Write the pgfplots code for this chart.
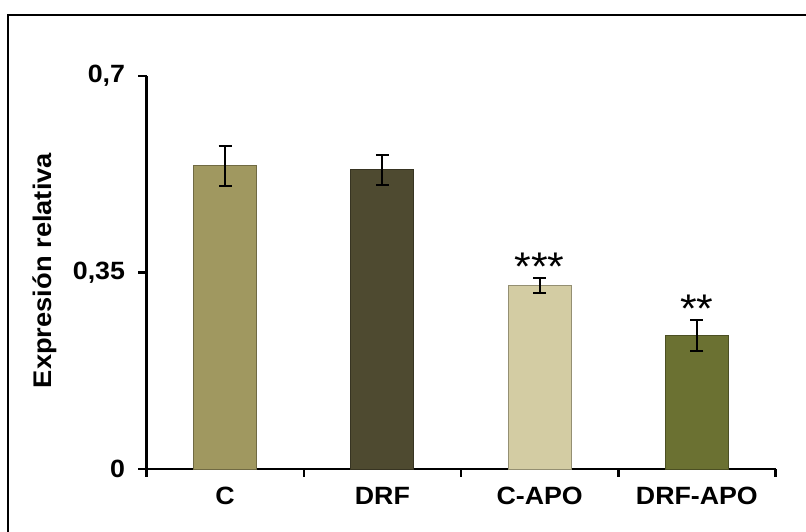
\documentclass[border=0pt]{standalone}
\usepackage{pgfplots}
\pgfplotsset{compat=1.18}
\usepackage{fontspec}
\setmainfont{Liberation Sans}[FakeStretch=1.07]
\definecolor{cC}{HTML}{A09860}
\definecolor{cDRF}{HTML}{4E4A30}
\definecolor{cCAPO}{HTML}{D3CCA3}
\definecolor{cDAPO}{HTML}{6B7132}
\begin{document}
\begin{tikzpicture}
\useasboundingbox (0,0) rectangle (806pt,532pt);
\draw[line width=2.2pt] (8pt,-10pt) -- (8pt,517pt) -- (820pt,517pt);
\begin{axis}[
  at={(146.5pt,63pt)}, anchor=south west,
  scale only axis, width=629pt, height=393pt,
  xmin=0, xmax=4, ymin=0, ymax=0.7,
  axis x line*=bottom, axis y line*=left,
  axis line style={line width=2.5pt},
  xtick={0,1,2,3,4}, x tick label as interval,
  xticklabels={C,DRF,C-APO,DRF-APO},
  ytick={0,0.35,0.7}, yticklabels={0,{0,35},{0,7}},
  tick style={black, line width=2.5pt},
  major tick length=8pt,
  tick align=outside,
  /pgf/number format/assume math mode=true,
  tick label style={font=\fontsize{25}{29}\selectfont\bfseries},
  yticklabel style={xshift=-10pt},
  xticklabel style={yshift=-7pt},
  ylabel={Expresión relativa},
  ylabel style={font=\fontsize{25.5}{29}\selectfont\bfseries, at={(axis description cs:-0.161,0.505)}, anchor=center},
  ybar, bar width=63pt, bar shift=0pt,
  clip=false,
]
\addplot[fill=cC, draw=cC!70!black, line width=0.8pt,
  error bars/.cd, y dir=both, y explicit,
  error bar style={black, line width=2pt},
  error mark options={rotate=90, mark size=6.5pt, line width=2pt, black}]
  coordinates {(0.5,0.540) +- (0,0.036)};
\addplot[fill=cDRF, draw=cDRF!70!black, line width=0.8pt,
  error bars/.cd, y dir=both, y explicit,
  error bar style={black, line width=2pt},
  error mark options={rotate=90, mark size=6.5pt, line width=2pt, black}]
  coordinates {(1.5,0.533) +- (0,0.027)};
\addplot[fill=cCAPO, draw=cCAPO!70!black, line width=0.8pt,
  error bars/.cd, y dir=both, y explicit,
  error bar style={black, line width=2pt},
  error mark options={rotate=90, mark size=6.5pt, line width=2pt, black}]
  coordinates {(2.5,0.3265) +- (0,0.0135)};
\addplot[fill=cDAPO, draw=cDAPO!70!black, line width=0.8pt,
  error bars/.cd, y dir=both, y explicit,
  error bar style={black, line width=2pt},
  error mark options={rotate=90, mark size=6.5pt, line width=2pt, black}]
  coordinates {(3.5,0.238) +- (0,0.028)};
\node[font=\fontsize{40}{40}\selectfont] at (axis cs:2.5,0.36) {***};
\node[font=\fontsize{40}{40}\selectfont] at (axis cs:3.5,0.285) {**};
\end{axis}
\end{tikzpicture}
\end{document}
